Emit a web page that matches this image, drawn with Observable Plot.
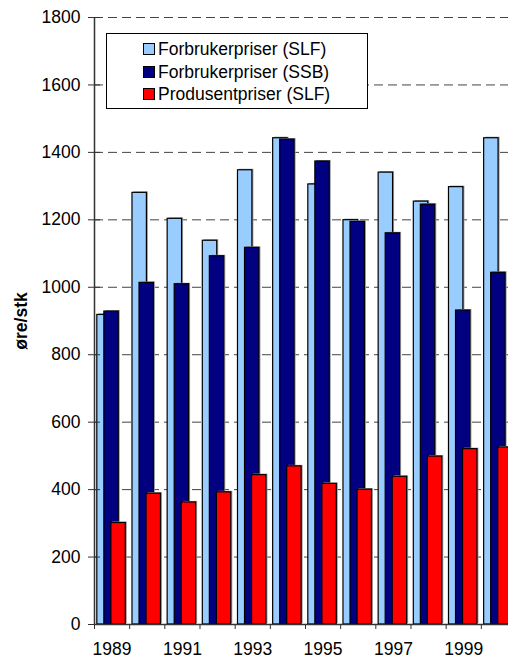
<!DOCTYPE html>
<html>
<head>
<meta charset="utf-8">
<script src="https://cdn.jsdelivr.net/npm/d3@7"></script>
<script src="https://cdn.jsdelivr.net/npm/@observablehq/plot@0.6"></script>
<style>
html, body { margin: 0; padding: 0; background: #fff; overflow: hidden; }
#wrap { position: relative; width: 508px; height: 659px; overflow: hidden; }
#chart svg { max-width: none !important; width: 516px !important; height: 659px !important; display: block; }
#chart svg text { font-size: 17.5px; }
#legend {
  position: absolute; left: 106px; top: 33px; width: 262px; height: 76px;
  box-sizing: border-box; border: 1px solid #000; background: #fff;
  font: 17.5px "Liberation Sans", Arial, sans-serif; color: #000;
}
.row { position: absolute; left: 0; height: 22px; line-height: 22px; white-space: nowrap; }
.sw { position: absolute; left: 36px; top: 5px; width: 10px; height: 10px; border: 1px solid #000; }
.lbl { position: absolute; left: 51px; top: 0; }
</style>
</head>
<body>
<div id="wrap"><div id="chart"></div><div id="legend"></div></div>
<script>
const years = [1989, 1990, 1991, 1992, 1993, 1994, 1995, 1996, 1997, 1998, 1999, 2000];
const consumerSLF = [918, 1280, 1203, 1138, 1347, 1442, 1305, 1199, 1340, 1254, 1297, 1442];
const consumerSSB = [928, 1013, 1009, 1092, 1117, 1438, 1373, 1194, 1160, 1245, 931, 1043];
const producerSLF = [301, 388, 362, 392, 443, 469, 417, 400, 438, 498, 520, 525];
const seriesNames = ["Forbrukerpriser (SLF)", "Forbrukerpriser (SSB)", "Produsentpriser (SLF)"];
const seriesColors = ["#99CCFF", "#000080", "#FF0000"];
const yTicks = [0, 200, 400, 600, 800, 1000, 1200, 1400, 1600, 1800];
const xLabels = [1989, 1991, 1993, 1995, 1997, 1999];
const yTitle = "øre/stk";

const seriesValues = [consumerSLF, consumerSSB, producerSLF];
const rows = [];
seriesValues.forEach((vals, s) => {
  vals.forEach((v, i) => rows.push({ year: years[i], value: v, s }));
});
const start = (d) => d.year - 0.42 + d.s * 0.2;
const end = (d) => start(d) + 0.41;
const boundaries = years.map(y => y - 0.5).concat([years[years.length - 1] + 0.5]);

const barMarks = [];
for (let s = 0; s < 3; s++) {
  const data = rows.filter(d => d.s === s);
  barMarks.push(Plot.rectY(data, { x1: start, x2: end, y1: 0, y2: "value", fill: "#9a9a9a", dx: 1.5, dy: -1 }));
  barMarks.push(Plot.rectY(data, { x1: start, x2: end, y1: 0, y2: "value", fill: seriesColors[s], stroke: "#000", strokeWidth: 1.2 }));
}

const chart = Plot.plot({
  width: 516,
  height: 659,
  marginLeft: 94,
  marginRight: 0,
  marginTop: 17,
  marginBottom: 35,
  style: { fontFamily: "'Liberation Sans', Arial, sans-serif", fontSize: "17.5px", color: "#000", background: "#fff", overflow: "visible" },
  x: { type: "linear", domain: [boundaries[0], boundaries[boundaries.length - 1]] },
  y: { domain: [0, 1800] },
  marks: [
    Plot.gridY(yTicks.slice(1), { stroke: "#444", strokeOpacity: 1, strokeDasharray: "9,5", strokeWidth: 1 }),
    ...barMarks,
    Plot.ruleX([boundaries[0]], { y1: 0, y2: 1800, stroke: "#333", strokeWidth: 1.5 }),
    Plot.ruleY([0], { stroke: "#333", strokeWidth: 1.5 }),
    Plot.axisY(yTicks, { tickSize: 6, tickPadding: 8, tickFormat: d => String(d), fontSize: "17.5px", stroke: "#333", label: null }),
    Plot.axisY(yTicks, { tickSize: -6, tickFormat: () => "", stroke: "#333", label: null }),
    Plot.axisX(boundaries, { tickSize: 5, tickFormat: () => "", stroke: "#333", label: null }),
    Plot.axisX(xLabels, { tickSize: 0, tickPadding: 18, tickFormat: d => String(d), fontSize: "17.5px", label: null }),
    Plot.text([yTitle], { frameAnchor: "left", textAnchor: "middle", lineAnchor: "middle", dx: -73, rotate: -90, fontWeight: "bold", fontSize: "17.5px", fill: "#000" })
  ]
});
document.getElementById("chart").appendChild(chart);

const legend = document.getElementById("legend");
seriesNames.forEach((name, i) => {
  const row = document.createElement("div");
  row.className = "row";
  row.style.top = (4 + i * 22.5) + "px";
  const sw = document.createElement("span");
  sw.className = "sw";
  sw.style.background = seriesColors[i];
  const lbl = document.createElement("span");
  lbl.className = "lbl";
  lbl.textContent = name;
  row.appendChild(sw);
  row.appendChild(lbl);
  legend.appendChild(row);
});
</script>
</body>
</html>
